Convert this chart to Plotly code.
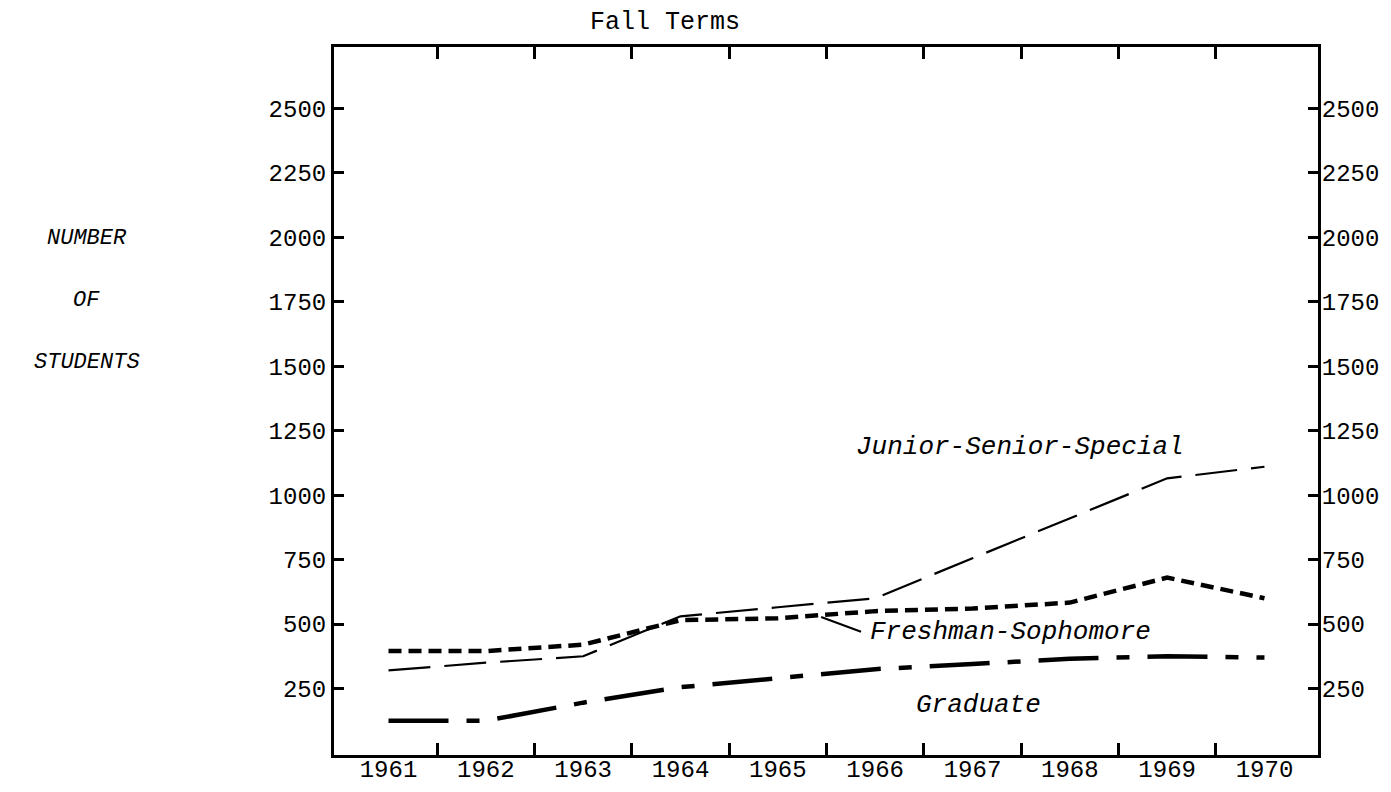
import plotly.graph_objects as go

years = [1961, 1962, 1963, 1964, 1965, 1966, 1967, 1968, 1969, 1970]
junior_senior_special = [320, 350, 375, 530, 565, 600, 755, 910, 1065, 1110]
freshman_sophomore = [395, 395, 420, 515, 522, 550, 560, 583, 680, 600]
graduate = [125, 125, 195, 255, 290, 325, 345, 365, 375, 370]
y_ticks = [250, 500, 750, 1000, 1250, 1500, 1750, 2000, 2250, 2500]
x_minor_ticks = [1961.5, 1962.5, 1963.5, 1964.5, 1965.5, 1966.5, 1967.5, 1968.5, 1969.5]

FONT = "Liberation Mono"
fig = go.Figure()

fig.add_trace(go.Scatter(x=years, y=junior_senior_special, mode="lines",
                         line=dict(color="black", width=2.2, dash="42px,14px"),
                         showlegend=False, hoverinfo="skip"))
fig.add_trace(go.Scatter(x=years, y=freshman_sophomore, mode="lines",
                         line=dict(color="black", width=4.5, dash="13px,7px"),
                         showlegend=False, hoverinfo="skip"))
fig.add_trace(go.Scatter(x=years, y=graduate, mode="lines",
                         line=dict(color="black", width=4.5, dash="60px,18px,13px,18px"),
                         showlegend=False, hoverinfo="skip"))
# helper traces so secondary axes render
fig.add_trace(go.Scatter(x=years, y=[None]*len(years), xaxis="x2", yaxis="y",
                         showlegend=False, hoverinfo="skip"))
fig.add_trace(go.Scatter(x=years, y=[None]*len(years), xaxis="x", yaxis="y2",
                         showlegend=False, hoverinfo="skip"))

tickfont = dict(family=FONT, size=24, color="black")
fig.update_layout(
    width=1383, height=776,
    autosize=False,
    margin=dict(l=326, r=73, t=39, b=29, autoexpand=False),
    paper_bgcolor="white", plot_bgcolor="white",
    xaxis=dict(range=[1960.44, 1970.55], tickvals=x_minor_ticks, showticklabels=False,
               ticks="inside", ticklen=12, tickwidth=2.5, tickcolor="black",
               showline=True, linewidth=3, linecolor="black", mirror="ticks",
               showgrid=False, zeroline=False, automargin=False),
    xaxis2=dict(overlaying="x", matches="x", side="bottom", tickvals=years,
                ticktext=[str(y) for y in years], ticks="", showline=False,
                showgrid=False, zeroline=False, tickfont=tickfont, automargin=False,
                ticklabelstandoff=-3),
    yaxis=dict(range=[-8, 2738], tickvals=y_ticks, ticks="inside", ticklen=10,
               tickwidth=2.5, tickcolor="black", showline=True, linewidth=3,
               linecolor="black", showgrid=False, zeroline=False, tickfont=tickfont,
               automargin=False),
    yaxis2=dict(overlaying="y", matches="y", side="right", tickvals=y_ticks,
                ticks="inside", ticklen=10, tickwidth=2.5, tickcolor="black",
                showline=True, linewidth=3, linecolor="black", showgrid=False,
                zeroline=False, tickfont=tickfont, automargin=False,
                ticklabelstandoff=-4),
)

italic = dict(family=FONT, size=26, color="black", style="italic")
side_font = dict(family=FONT, size=22, color="black", style="italic")

fig.add_annotation(text="Fall Terms", xref="paper", yref="paper", x=0.336, y=1.034,
                   xanchor="center", yanchor="middle", showarrow=False,
                   font=dict(family=FONT, size=25, color="black"))
for txt, yy in [("NUMBER", 0.729), ("OF", 0.642), ("STUDENTS", 0.554)]:
    fig.add_annotation(text=txt, xref="paper", yref="paper", x=-0.2515, y=yy,
                       xanchor="center", yanchor="middle", showarrow=False, font=side_font)

for txt, xx, yy in [("Junior-Senior-Special", 1967.49, 1185),
                    ("Freshman-Sophomore", 1967.39, 468),
                    ("Graduate", 1967.06, 186)]:
    fig.add_annotation(text=txt, x=xx, y=yy, xanchor="center", yanchor="middle",
                       showarrow=False, font=italic)
fig.add_shape(type="line", x0=1965.445, y0=527, x1=1965.855, y1=470,
              line=dict(color="black", width=2))

fig.write_html("out.html")
